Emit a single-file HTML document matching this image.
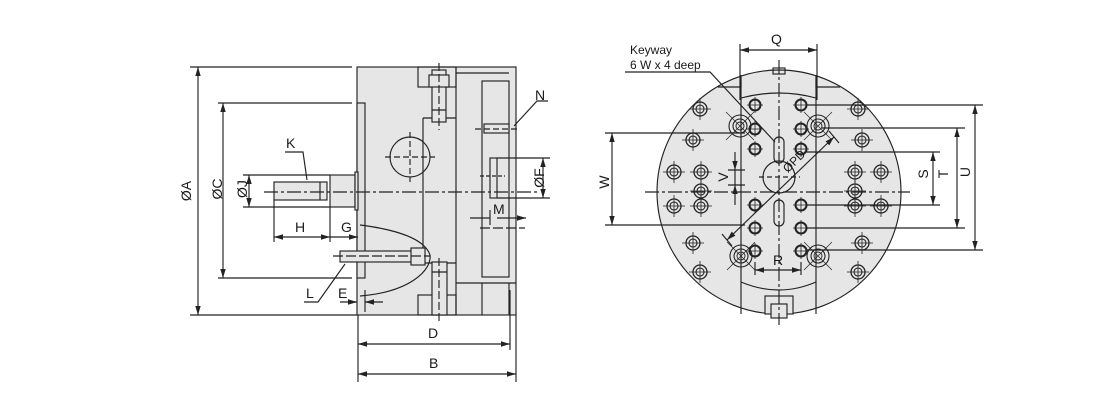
<!DOCTYPE html>
<html><head><meta charset="utf-8"><style>
html,body{margin:0;padding:0;background:#fff;width:1100px;height:400px;overflow:hidden}
svg{display:block}
text{font-family:"Liberation Sans",sans-serif;fill:#1a1a1a}
</style></head><body>
<svg width="1100" height="400" viewBox="0 0 1100 400" xmlns="http://www.w3.org/2000/svg">
<defs>
<marker id="a" viewBox="0 0 10 6" refX="10" refY="3" markerWidth="8" markerHeight="5" orient="auto-start-reverse"><path d="M0,0L10,3L0,6z" fill="#222"/></marker>
<g id="h"><circle r="7" fill="none" stroke="#222" stroke-width="1.3"/><circle r="4" fill="none" stroke="#222" stroke-width="1.1"/><path d="M-11,0H11M0,-11V11" stroke="#222" stroke-width="0.8"/></g>
<g id="s"><circle r="5.5" fill="none" stroke="#222" stroke-width="2"/><path d="M-8,0H8M0,-8V8" stroke="#222" stroke-width="0.8"/></g>
<g id="b"><circle r="11" fill="none" stroke="#222" stroke-width="1.1"/><circle r="7" fill="none" stroke="#222" stroke-width="1.1"/><circle r="4" fill="none" stroke="#222" stroke-width="0.9"/><path d="M-14,-14L14,14M-14,14L14,-14" stroke="#222" stroke-width="0.7"/></g>
</defs>
<g stroke="#222" stroke-width="1.15" fill="none">
<!-- LEFT VIEW -->
<rect x="357" y="67" width="159" height="248" fill="#e6e6e6"/>
<rect x="357" y="103" width="8" height="175" fill="#e0e0e0"/>
<path d="M423,118V263M423,118H456M423,263H456M456,67V315"/>
<rect x="418" y="67" width="38" height="20"/>
<rect x="418" y="295" width="38" height="20"/>
<path d="M456,73H509M456,283H516M482,283V315M509,283V315"/>
<rect x="482" y="81" width="27" height="196"/>
<rect x="432" y="70" width="14" height="52" fill="#e6e6e6"/>
<rect x="429" y="75" width="20" height="12" fill="#e6e6e6"/>
<rect x="432" y="262" width="15" height="53" fill="#e6e6e6"/>
<path d="M439,63V130M439,258V322" stroke-dasharray="8,3"/>
<path d="M432,110H446M432,272H447"/>
<rect x="484" y="124" width="25" height="9" fill="#e6e6e6"/>
<path d="M475,129H520" stroke-dasharray="6,3"/>
<rect x="490" y="158" width="7" height="40" fill="#e6e6e6"/>
<path d="M480,176H505" stroke-dasharray="4,2"/>
<circle cx="410" cy="157" r="20"/>
<path d="M385,157H435M410,132V182" stroke-dasharray="6,3"/>
<rect x="274" y="182" width="53" height="18" fill="#e6e6e6"/>
<path d="M320,182V200"/>
<rect x="330" y="175" width="25" height="32" fill="#e6e6e6"/>
<rect x="355" y="172" width="3" height="38" fill="#e6e6e6"/>
<path d="M264,192H540" stroke-dasharray="14,3,3,3"/>
<rect x="340" y="251" width="75" height="11" fill="#e6e6e6"/>
<rect x="411" y="248" width="14" height="17" fill="#e6e6e6"/>
<path d="M333,256H430" stroke-dasharray="10,3"/>
<path d="M360,225C400,230 425,240 430,255C432,270 410,292 360,296"/>
<!-- dims left -->
<path d="M190,67H352M190,315H357M218,103H352M218,278H352M243,175H330M243,207H330"/>
<path d="M198,67V315" marker-start="url(#a)" marker-end="url(#a)"/>
<path d="M223,103V278" marker-start="url(#a)" marker-end="url(#a)"/>
<path d="M249,175V207" marker-start="url(#a)" marker-end="url(#a)"/>
<path d="M274,200V242M330,207V242M358,315V382M516,315V382M510,290V350"/>
<path d="M274,237H330" marker-start="url(#a)" marker-end="url(#a)"/>
<path d="M330,237H358" marker-end="url(#a)"/>
<path d="M358,344H510" marker-start="url(#a)" marker-end="url(#a)"/>
<path d="M358,374H516" marker-start="url(#a)" marker-end="url(#a)"/>
<path d="M497,158H550M497,198H550"/>
<path d="M543,158V198" marker-start="url(#a)" marker-end="url(#a)"/>
<path d="M470,218H490M497,218H526" marker-end="url(#a)"/>
<path d="M490,210V225"/>
<path d="M480,228H525" stroke-dasharray="10,3"/>
<path d="M340,302H357M365,302H383"/>
<path d="M349,302H357" marker-end="url(#a)"/><path d="M375,302H365" marker-end="url(#a)"/>
<path d="M365,290V312"/>
<path d="M285,152H303L307,180M514,126L537,101H548M304,302H318L345,264"/>
</g>
<g font-size="14">
<text x="185" y="197" transform="rotate(-90 185 191)" text-anchor="middle">ØA</text>
<text x="218" y="197" transform="rotate(-90 216 191)" text-anchor="middle">ØC</text>
<text x="243" y="197" transform="rotate(-90 241 191)" text-anchor="middle">ØJ</text>
<text x="538" y="184" transform="rotate(-90 538 178)" text-anchor="middle">ØF</text>
<text x="286" y="148">K</text><text x="295" y="232">H</text><text x="341" y="232">G</text>
<text x="306" y="298">L</text><text x="338" y="298">E</text><text x="535" y="100">N</text>
<text x="493" y="214">M</text><text x="428" y="338">D</text><text x="429" y="368">B</text>
</g>
<!-- RIGHT VIEW -->
<g stroke="#222" stroke-width="1.15" fill="none">
<circle cx="779" cy="192" r="122" fill="#e6e6e6"/>
<path d="M741,75V314M816,75V314"/>
<path d="M741,98Q779,88 816,98M741,282Q779,298 816,282"/>
<path d="M718,87H741V78M816,78V87H840"/>
<rect x="773" y="68" width="12" height="6"/>
<rect x="765" y="296" width="28" height="18" fill="#e6e6e6"/>
<rect x="771" y="304" width="16" height="14" fill="#e6e6e6"/>
<circle cx="779" cy="177" r="16"/>
<rect x="774" y="137" width="10" height="26" rx="5"/>
<rect x="774" y="200" width="10" height="26" rx="5"/>
<path d="M779,60V325" stroke-dasharray="14,3,3,3"/>
<path d="M645,192H910" stroke-dasharray="14,3,3,3"/>
<path d="M759,177H800" stroke-dasharray="5,3"/>
</g>
<use href="#s" x="755" y="105"/><use href="#s" x="801" y="105"/>
<use href="#s" x="755" y="129"/><use href="#s" x="801" y="129"/>
<use href="#s" x="755" y="149"/><use href="#s" x="801" y="149"/>
<use href="#s" x="755" y="205"/><use href="#s" x="801" y="205"/>
<use href="#s" x="755" y="228"/><use href="#s" x="801" y="228"/>
<use href="#s" x="755" y="251"/><use href="#s" x="801" y="251"/>
<use href="#h" x="700" y="109"/><use href="#h" x="693" y="140"/>
<use href="#h" x="674" y="172"/><use href="#h" x="701" y="172"/>
<use href="#h" x="674" y="206"/><use href="#h" x="701" y="206"/>
<use href="#h" x="701" y="191"/>
<use href="#h" x="693" y="243"/><use href="#h" x="700" y="272"/>
<use href="#h" x="858" y="109"/><use href="#h" x="862" y="140"/>
<use href="#h" x="855" y="172"/><use href="#h" x="881" y="172"/>
<use href="#h" x="855" y="206"/><use href="#h" x="881" y="206"/>
<use href="#h" x="855" y="191"/>
<use href="#h" x="862" y="243"/><use href="#h" x="858" y="272"/>
<use href="#b" x="740" y="126"/><use href="#b" x="818" y="126"/>
<use href="#b" x="741" y="256"/><use href="#b" x="818" y="256"/>
<g stroke="#222" stroke-width="1.15" fill="none">
<path d="M740,44V100M817,44V100"/>
<path d="M740,50H817" marker-start="url(#a)" marker-end="url(#a)"/>
<path d="M605,133H745M605,225H745"/>
<path d="M612,133V225" marker-start="url(#a)" marker-end="url(#a)"/>
<path d="M806,152H940M806,205H940"/>
<path d="M933,152V205" marker-start="url(#a)" marker-end="url(#a)"/>
<path d="M822,128H965M806,228H965"/>
<path d="M957,128V228" marker-start="url(#a)" marker-end="url(#a)"/>
<path d="M806,105H983M806,250H983"/>
<path d="M975,105V250" marker-start="url(#a)" marker-end="url(#a)"/>
<path d="M755,262V275M801,262V275"/>
<path d="M755,270H801" marker-start="url(#a)" marker-end="url(#a)"/>
<path d="M735,152V170" marker-end="url(#a)"/><path d="M735,205V185" marker-end="url(#a)"/>
<path d="M735,170V185M728,170H745M728,185H745"/>
<path d="M727,240L834,137" marker-start="url(#a)" marker-end="url(#a)"/>
<path d="M722,234L732,246M829,131L839,143"/>
<path d="M625,72H710L775,142"/>
</g>
<g font-size="14">
<text x="771" y="44">Q</text>
<text x="605" y="182" transform="rotate(-90 605 182)" text-anchor="middle" dy="4">W</text>
<text x="928" y="178" transform="rotate(-90 924 178)" text-anchor="middle" dy="4">S</text>
<text x="948" y="178" transform="rotate(-90 944 178)" text-anchor="middle" dy="4">T</text>
<text x="972" y="178" transform="rotate(-90 966 178)" text-anchor="middle" dy="4">U</text>
<text x="724" y="181" transform="rotate(-90 724 177)" text-anchor="middle">V</text>
<text x="773" y="265">R</text>
<text x="797" y="164" transform="rotate(-45 797 164)" text-anchor="middle" font-size="12">ØPD</text>
</g>
<g font-size="12">
<text x="630" y="54">Keyway</text>
<text x="630" y="69">6 W x 4 deep</text>
</g>
</svg>
</body></html>
